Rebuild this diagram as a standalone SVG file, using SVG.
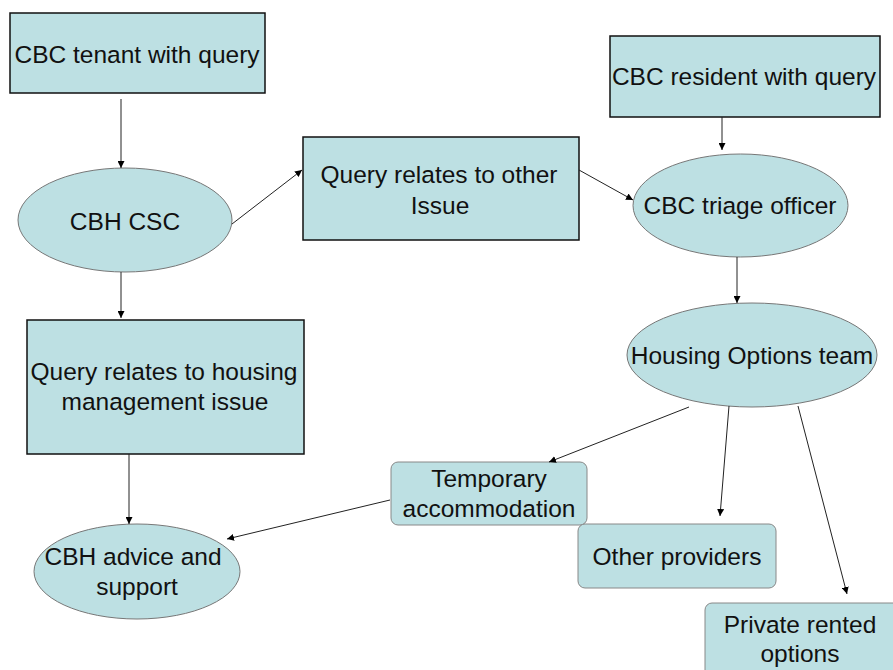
<svg xmlns="http://www.w3.org/2000/svg" width="893" height="670" viewBox="0 0 893 670">
<defs>
<marker id="arr" viewBox="0 0 10 10" refX="10" refY="5" markerWidth="7" markerHeight="7" markerUnits="userSpaceOnUse" orient="auto">
<path d="M0,0 L10,5 L0,10 z" fill="#000"/>
</marker>
<style>
.box{fill:#bde0e3;stroke:#111;stroke-width:1.5}
.ell{fill:#bde0e3;stroke:#777;stroke-width:1}
.rbox{fill:#bde0e3;stroke:#888;stroke-width:1}
text{font-family:"Liberation Sans",Arial,sans-serif;font-size:24.5px;fill:#111;text-anchor:middle}
.c line{stroke:#222;stroke-width:1;marker-end:url(#arr)}
</style>
</defs>
<rect width="893" height="670" fill="#fff"/>
<g id="tenant"><rect class="box" x="10" y="13" width="255" height="80"/><text x="137" y="63">CBC tenant with query</text></g>
<g id="cbhcsc"><ellipse class="ell" cx="125" cy="220" rx="107" ry="52"/><text x="125" y="230">CBH CSC</text></g>
<g id="other"><rect class="box" x="303" y="137" width="276" height="103"/><text x="439" y="183">Query relates to other</text><text x="440" y="214">Issue</text></g>
<g id="resident"><rect class="box" x="610" y="36" width="270" height="81"/><text x="744" y="85">CBC resident with query</text></g>
<g id="triage"><ellipse class="ell" cx="740.5" cy="205.5" rx="107.5" ry="51.5"/><text x="740" y="214">CBC triage officer</text></g>
<g id="housing"><ellipse class="ell" cx="752" cy="355" rx="125" ry="52"/><text x="752" y="364">Housing Options team</text></g>
<g id="mgmt"><rect class="box" x="27" y="320" width="277" height="134"/><text x="164" y="380">Query relates to housing</text><text x="165" y="410">management issue</text></g>
<g id="advice"><ellipse class="ell" cx="137" cy="571.5" rx="103" ry="47.5"/><text x="133" y="565">CBH advice and</text><text x="137" y="595">support</text></g>
<g id="temp"><rect class="rbox" x="391" y="462" width="196" height="63" rx="7"/><text x="489" y="487">Temporary</text><text x="489" y="517">accommodation</text></g>
<g id="providers"><rect class="rbox" x="578" y="524" width="198" height="64" rx="7"/><text x="677" y="565">Other providers</text></g>
<g id="private"><rect class="rbox" x="705" y="603" width="200" height="80" rx="7"/><text x="800" y="633">Private rented</text><text x="800" y="662">options</text></g>
<g id="connectors" class="c">
<line x1="121" y1="99" x2="121" y2="168"/>
<line x1="232" y1="224" x2="302" y2="170"/>
<line x1="579" y1="170" x2="633" y2="200"/>
<line x1="722" y1="117" x2="722" y2="150"/>
<line x1="737" y1="257" x2="737" y2="303"/>
<line x1="121" y1="272" x2="121" y2="318"/>
<line x1="129" y1="454" x2="129" y2="524"/>
<line x1="689" y1="407" x2="549" y2="462"/>
<line x1="729" y1="406" x2="720" y2="516"/>
<line x1="798" y1="406" x2="847" y2="594"/>
<line x1="390" y1="500" x2="227" y2="539"/>
</g>
</svg>
